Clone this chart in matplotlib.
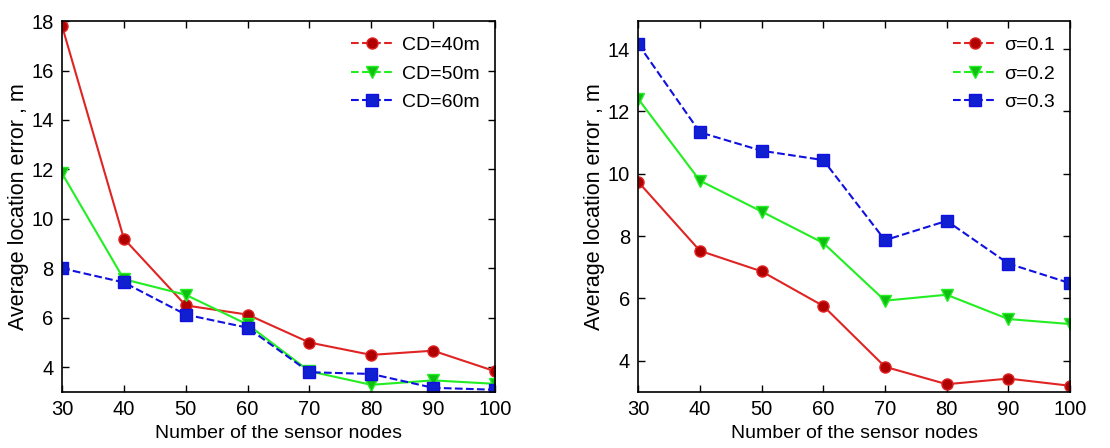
import matplotlib.pyplot as plt
from matplotlib.lines import Line2D

plt.rcParams['font.family'] = ['Liberation Sans', 'DejaVu Sans']

nodes = [30, 40, 50, 60, 70, 80, 90, 100]

# left panel: communication distance
cd40 = [17.8, 9.2, 6.5, 6.13, 5.0, 4.5, 4.67, 3.84]
cd50 = [11.84, 7.56, 6.93, 5.73, 3.84, 3.29, 3.47, 3.33]
cd60 = [8.0, 7.43, 6.13, 5.6, 3.8, 3.73, 3.17, 3.09]
cd_labels = ["CD=40m", "CD=50m", "CD=60m"]

# right panel: noise level
s01 = [9.74, 7.53, 6.87, 5.76, 3.81, 3.25, 3.43, 3.2]
s02 = [12.4, 9.78, 8.79, 7.78, 5.93, 6.12, 5.34, 5.18]
s03 = [14.16, 11.33, 10.74, 10.44, 7.87, 8.49, 7.12, 6.49]
sigma_labels = ["σ=0.1", "σ=0.2", "σ=0.3"]

styles = [
    dict(color="#e02424", marker="o", mfc="#b00000", mec="#e02424", ls="-"),
    dict(color="#22ee22", marker="v", mfc="#10c010", mec="#22ee22", ls="-"),
    dict(color="#1010e0", marker="s", mfc="#1020d0", mec="#1010e0", ls="--"),
]

fig = plt.figure(figsize=(11.1, 4.48), dpi=100)
ax1 = fig.add_axes([0.0559, 0.125, 0.390, 0.828])
ax2 = fig.add_axes([0.575, 0.125, 0.389, 0.828])


def draw(ax, series, labels, ylim, yticks):
    for ys, st in zip(series, styles):
        ax.plot(nodes, ys, color=st["color"], ls=st["ls"], lw=1.5,
                marker=st["marker"], ms=8, mfc=st["mfc"], mec=st["mec"])
    # legend samples are all dashed in the original
    handles = [Line2D([], [], color=st["color"], ls="--", lw=1.5,
                      marker=st["marker"], ms=8, mfc=st["mfc"], mec=st["mec"])
               for st in styles]
    ax.legend(handles, labels, loc="upper right", frameon=False,
              fontsize=14, handlelength=2.2, handletextpad=0.4,
              labelspacing=0.55, borderaxespad=0.4)
    ax.set_xlim(30, 100)
    ax.set_ylim(*ylim)
    ax.set_xticks(nodes)
    ax.set_yticks(yticks)
    ax.tick_params(direction="in", top=True, right=True, labelsize=14.5,
                   length=5, width=1, pad=6)
    for sp in ax.spines.values():
        sp.set_linewidth(1.2)
    ax.set_xlabel("Number of the sensor nodes", fontsize=14, labelpad=4)
    ax.set_ylabel("Average location error , m", fontsize=15.5, labelpad=2)


draw(ax1, [cd40, cd50, cd60], cd_labels, (3.0, 17.85), [4, 6, 8, 10, 12, 14, 16, 18])
draw(ax2, [s01, s02, s03], sigma_labels, (3.0, 14.9), [4, 6, 8, 10, 12, 14])

fig.savefig("out.png", dpi=100)
